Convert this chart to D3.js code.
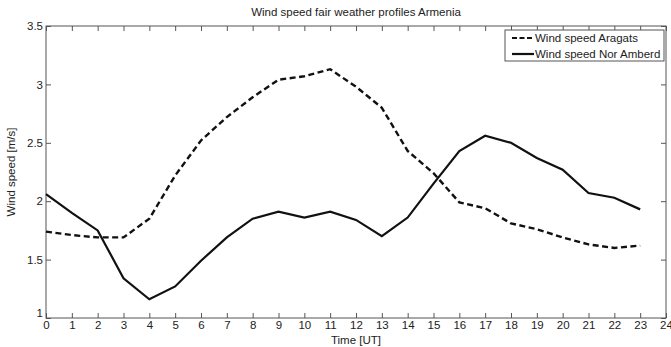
<!DOCTYPE html>
<html>
<head>
<meta charset="utf-8">
<script src="https://cdn.jsdelivr.net/npm/d3@7"></script>
<style>
  body { margin: 0; background: #fff; }
  text { font-family: "Liberation Sans", Arial, sans-serif; fill: #222; }
</style>
</head>
<body>
<div id="chart"></div>
<script>
// DATA //
const hours = d3.range(0, 24);
const aragats = [1.74, 1.71, 1.69, 1.69, 1.85, 2.22, 2.52, 2.72, 2.89, 3.04, 3.07, 3.13,
                 2.98, 2.80, 2.43, 2.24, 1.99, 1.94, 1.81, 1.76, 1.69, 1.63, 1.60, 1.62];
const norAmberd = [2.06, 1.90, 1.75, 1.34, 1.16, 1.27, 1.49, 1.69, 1.85, 1.91, 1.86, 1.91,
                   1.84, 1.70, 1.86, 2.15, 2.43, 2.56, 2.50, 2.37, 2.27, 2.07, 2.03, 1.93];
const xTicks = d3.range(0, 25);
const yTicks = [1, 1.5, 2, 2.5, 3, 3.5];
const seriesNames = ["Wind speed Aragats", "Wind speed Nor Amberd"];

// DIMENSIONS //
const W = 671, H = 347;
const margin = {top: 26, right: 5, bottom: 29, left: 46};
const width = W - margin.left - margin.right,
      height = H - margin.top - margin.bottom;

const svg = d3.select("#chart").append("svg")
    .attr("width", W).attr("height", H);

const g = svg.append("g")
    .attr("transform", `translate(${margin.left},${margin.top})`);

// scales
const x = d3.scaleLinear().domain([0, 24]).range([0, width]);
const y = d3.scaleLinear().domain([1, 3.5]).range([height, 0]);

const axisColor = "#555";

// frame
g.append("rect")
    .attr("width", width).attr("height", height)
    .attr("fill", "none").attr("stroke", axisColor).attr("stroke-width", 1);

// bottom axis with inward ticks
const xAxis = g.append("g")
    .attr("transform", `translate(0,${height})`)
    .call(d3.axisBottom(x).tickValues(xTicks).tickSizeInner(-5).tickSizeOuter(0).tickPadding(3));
// top ticks
const xTop = g.append("g")
    .call(d3.axisTop(x).tickValues(xTicks).tickSizeInner(-5).tickSizeOuter(0).tickFormat(""));

// left axis
const yAxis = g.append("g")
    .call(d3.axisLeft(y).tickValues(yTicks).tickSizeInner(-5).tickSizeOuter(0).tickPadding(3)
        .tickFormat(d => d3.format("")(d)));
// right ticks
const yRight = g.append("g")
    .attr("transform", `translate(${width},0)`)
    .call(d3.axisRight(y).tickValues(yTicks).tickSizeInner(-5).tickSizeOuter(0).tickFormat(""));

[xAxis, xTop, yAxis, yRight].forEach(a => {
  a.select(".domain").remove();
  a.selectAll("line").attr("stroke", axisColor);
  a.selectAll("text").attr("font-size", 11.5).attr("fill", "#222")
    .style("font-family", "Liberation Sans, Arial, sans-serif");
});
// the "1" label sits a little above the corner, as in the original
yAxis.selectAll(".tick").filter(d => d === 1).select("text").attr("dy", "-0.1em");

// lines
const line = d3.line().x((d, i) => x(hours[i])).y(d => y(d));

g.append("path")
    .datum(aragats)
    .attr("d", line)
    .attr("fill", "none").attr("stroke", "#111")
    .attr("stroke-width", 2.4)
    .attr("stroke-dasharray", "6,3.5");

g.append("path")
    .datum(norAmberd)
    .attr("d", line)
    .attr("fill", "none").attr("stroke", "#111")
    .attr("stroke-width", 2.2);

// title
svg.append("text")
    .attr("x", margin.left + width / 2).attr("y", 16)
    .attr("text-anchor", "middle")
    .attr("font-size", 11.5)
    .text("Wind speed fair weather profiles Armenia");

// axis labels
svg.append("text")
    .attr("x", margin.left + x(12)).attr("y", 344)
    .attr("text-anchor", "middle")
    .attr("font-size", 11.5)
    .text("Time [UT]");

svg.append("text")
    .attr("transform", `translate(15,${margin.top + height / 2}) rotate(-90)`)
    .attr("text-anchor", "middle")
    .attr("font-size", 11.5)
    .text("Wind speed [m/s]");

// legend
const legend = svg.append("g").attr("transform", "translate(505,30)");
legend.append("rect")
    .attr("width", 159).attr("height", 31)
    .attr("fill", "#fff").attr("stroke", axisColor);

seriesNames.forEach((name, i) => {
  const ly = 8 + i * 16;
  legend.append("line")
    .attr("x1", 7).attr("x2", 29).attr("y1", ly).attr("y2", ly)
    .attr("stroke", "#111").attr("stroke-width", 2.2)
    .attr("stroke-dasharray", i === 0 ? "5,2.5" : null);
  legend.append("text")
    .attr("x", 30).attr("y", ly + 4)
    .attr("font-size", 11.5)
    .text(name);
});
</script>
</body>
</html>
